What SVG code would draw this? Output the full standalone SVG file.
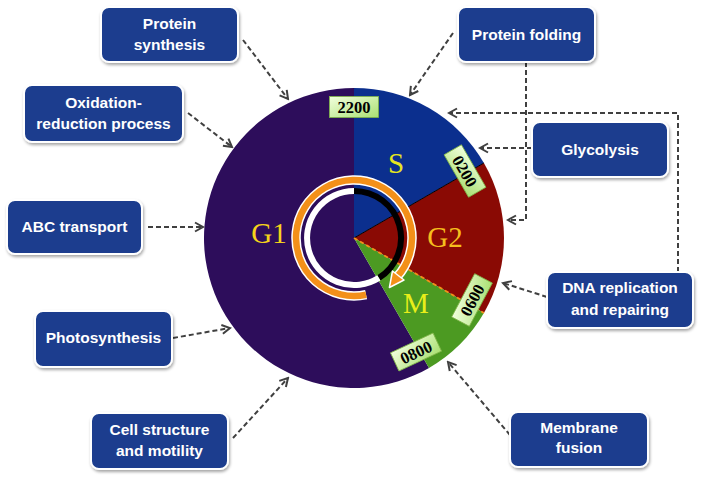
<svg xmlns="http://www.w3.org/2000/svg" width="701" height="477" viewBox="0 0 701 477">
<style>
.box{fill:#1B3E8E;stroke:#ffffff;stroke-width:2;filter:url(#sh)}
.bt{fill:#ffffff;font-family:"Liberation Sans",Arial,sans-serif;font-weight:bold;font-size:15.5px;text-anchor:middle}
.con{fill:none;stroke:#404040;stroke-width:2;stroke-dasharray:5 3;marker-end:url(#arr)}
.tl{fill:url(#lg);stroke:#7FB548;stroke-width:0.8}
.tt{fill:#000;font-family:"Liberation Serif","Times New Roman",serif;font-weight:bold;font-size:16.5px;text-anchor:middle}
.ph{font-family:"Liberation Serif","Times New Roman",serif;font-size:29px;text-anchor:middle}
</style>
<defs>
<filter id="sh" x="-10%" y="-10%" width="125%" height="135%">
<feDropShadow dx="1" dy="2" stdDeviation="1.5" flood-color="#000" flood-opacity="0.35"/>
</filter>
<linearGradient id="lg" x1="0" y1="0" x2="1" y2="1">
<stop offset="0" stop-color="#F2FFDE"/>
<stop offset="1" stop-color="#A9E072"/>
</linearGradient>
<marker id="arr" markerUnits="userSpaceOnUse" markerWidth="12" markerHeight="12" refX="10" refY="6" orient="auto">
<path d="M2,1.5 L10,6 L2,10.5" fill="none" stroke="#404040" stroke-width="2"/>
</marker>
</defs>
<rect width="701" height="477" fill="#ffffff"/>

<g id="cycle">
<path d="M354,238 L429,367.9 A150,150 0 1 1 354,88 Z" fill="#2D0D5B"/>
<path d="M354,238 L354,88 A150,150 0 0 1 483.9,163 Z" fill="#0B2F8E"/>
<path d="M354,238 L483.9,163 A150,150 0 0 1 483.9,313 Z" fill="#8A0A04"/>
<path d="M354,238 L483.9,313 A150,150 0 0 1 429,367.9 Z" fill="#4C9A22"/>
<line x1="354" y1="238" x2="483.9" y2="163" stroke="#000" stroke-width="1"/>
<line x1="354" y1="238" x2="483.9" y2="313" stroke="#F39019" stroke-width="2" stroke-dasharray="4 3"/>
<path d="M354,191 A47,47 0 0 1 378.9,277.9" fill="none" stroke="#000" stroke-width="6"/>
<path d="M378.9,277.9 A47,47 0 1 1 354,191" fill="none" stroke="#fff" stroke-width="6"/>
<path d="M366.1,294.7 A58,58 0 1 1 397.1,276.8" fill="none" stroke="#fff" stroke-width="9.5"/>
<path d="M366.1,294.7 A58,58 0 1 1 397.1,276.8" fill="none" stroke="#F39019" stroke-width="6.5"/>
<path d="M404,280 L389.4,287.5 L392.5,271 Z" fill="#F39019" stroke="#fff" stroke-width="1.5" stroke-linejoin="round"/>
<text class="ph" x="396" y="173" fill="#E6E620">S</text>
<text class="ph" x="269" y="243" fill="#F5D31A">G1</text>
<text class="ph" x="445" y="247" fill="#F5BE1E">G2</text>
<text class="ph" x="416" y="313" fill="#E8EE1A">M</text>
</g>

<g id="t2200" transform="translate(354,107)">
<rect class="tl" x="-24.5" y="-10.5" width="49" height="21"/>
<text class="tt" y="6">2200</text>
</g>
<g id="t0200" transform="translate(465,171) rotate(60)">
<rect class="tl" x="-24.5" y="-10" width="49" height="20"/>
<text class="tt" y="6">0200</text>
</g>
<g id="t0600" transform="translate(472,300) rotate(-62)">
<rect class="tl" x="-24.5" y="-10" width="49" height="20"/>
<text class="tt" y="6">0600</text>
</g>
<g id="t0800" transform="translate(416,352) rotate(-25)">
<rect class="tl" x="-23.5" y="-10" width="47" height="20"/>
<text class="tt" y="6">0800</text>
</g>

<g id="connectors">
<path class="con" d="M243,40 L288,99"/>
<path class="con" d="M188,113 L232,147"/>
<path class="con" d="M148,227 L203,227"/>
<path class="con" d="M173,338 L230,328"/>
<path class="con" d="M233,438 L288,378"/>
<path class="con" d="M453,33 L410,95"/>
<path class="con" d="M526,62 L526,220 L508,220"/>
<path class="con" d="M678,272 L678,113 L449,113"/>
<path class="con" d="M532,148 L480,148"/>
<path class="con" d="M547,297 L503,283"/>
<path class="con" d="M510,435 L448,362"/>
</g>

<g id="protein-synthesis">
<rect class="box" x="101" y="7" width="137" height="55" rx="8"/>
<text class="bt" x="169.5" y="29">Protein</text>
<text class="bt" x="169.5" y="50">synthesis</text>
</g>
<g id="oxidation-reduction">
<rect class="box" x="24" y="85" width="159" height="57" rx="8"/>
<text class="bt" x="103.5" y="108">Oxidation-</text>
<text class="bt" x="103.5" y="129">reduction process</text>
</g>
<g id="abc-transport">
<rect class="box" x="7" y="200" width="135" height="54" rx="8"/>
<text class="bt" x="74.5" y="232">ABC transport</text>
</g>
<g id="photosynthesis">
<rect class="box" x="35" y="311" width="137" height="56" rx="8"/>
<text class="bt" x="103.5" y="343">Photosynthesis</text>
</g>
<g id="cell-structure">
<rect class="box" x="91" y="413" width="137" height="56" rx="8"/>
<text class="bt" x="159.5" y="435">Cell structure</text>
<text class="bt" x="159.5" y="456">and motility</text>
</g>
<g id="protein-folding">
<rect class="box" x="458" y="7" width="137" height="55" rx="8"/>
<text class="bt" x="526.5" y="40">Protein folding</text>
</g>
<g id="glycolysis">
<rect class="box" x="532" y="122" width="136" height="55" rx="8"/>
<text class="bt" x="600" y="155">Glycolysis</text>
</g>
<g id="dna-replication">
<rect class="box" x="547" y="272" width="146" height="56" rx="8"/>
<text class="bt" x="620" y="293">DNA replication</text>
<text class="bt" x="620" y="315">and repairing</text>
</g>
<g id="membrane-fusion">
<rect class="box" x="510" y="412" width="138" height="55" rx="8"/>
<text class="bt" x="579" y="433">Membrane</text>
<text class="bt" x="579" y="453">fusion</text>
</g>
</svg>
